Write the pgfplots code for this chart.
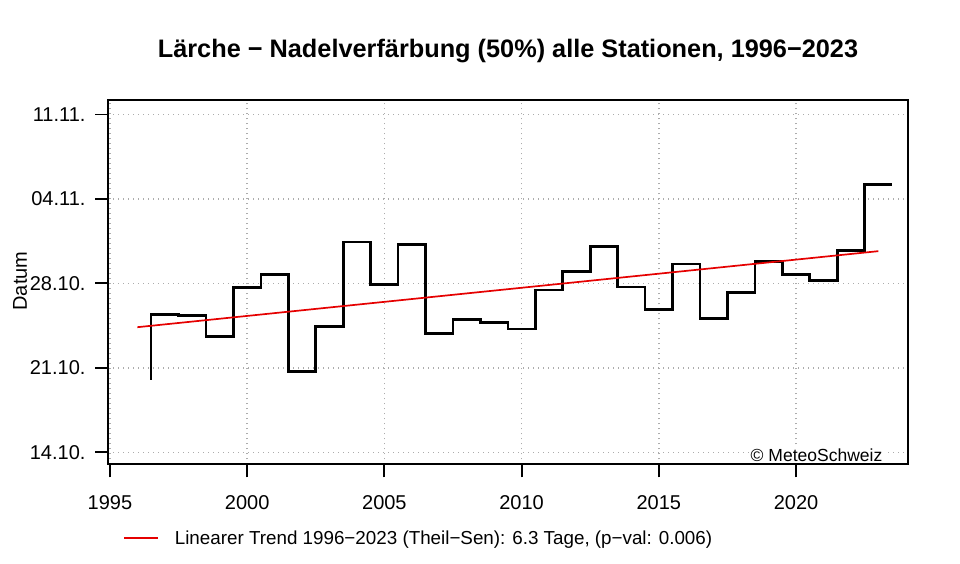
\documentclass[border=0pt]{standalone}
\usepackage{fontspec}
\setmainfont{Liberation Sans}
\usepackage{pgfplots}
\pgfplotsset{compat=1.18}
\pgfplotsset{trendleg/.style={legend image code/.code={\draw[#1] (0pt,0pt) -- (34pt,0pt);}}}
\begin{document}
\begin{tikzpicture}[x=1pt,y=1pt]
\path[use as bounding box] (0,0) rectangle (960,564);
\begin{axis}[
  at={(108pt,99.7pt)}, anchor=south west,
  scale only axis, width=800.3pt, height=364.6pt,
  xmin=1994.93, xmax=2024.09, ymin=-0.99, ymax=29.22,
  xtick={1995,2000,2005,2010,2015,2020},
  xticklabels={1995,2000,2005,2010,2015,2020},
  ytick={0,7,14,21,28},
  yticklabels={14.10.,21.10.,28.10.,04.11.,11.11.},
  xtick pos=bottom, ytick pos=left,
  tick align=outside, major tick length=13pt,
  tick style={black, line width=1.8pt},
  axis line style={line width=1.8pt},
  ticklabel style={font=\fontsize{20}{22}\selectfont},
  xticklabel style={yshift=-15pt},
  yticklabel style={xshift=-6pt},
  grid=major,
  major grid style={gray!65, line width=1.4pt, dash pattern=on 1.4pt off 3.6pt},
  legend style={at={(axis description cs:0.0187,-0.202)}, anchor=west, draw=none, fill=none,
    inner sep=0pt, font=\fontsize{18.8}{20}\selectfont, nodes={inner sep=0pt}, column sep=16pt},
  legend cell align=left,
  trendleg,
  clip=false,
]
\addplot[const plot mark right, black, line width=2.7pt, line join=miter, forget plot] coordinates {
(1996.5,6.0) (1997.5,11.45) (1998.5,11.31) (1999.5,9.57) (2000.5,13.63)
(2001.5,14.76) (2002.5,6.67) (2003.5,10.40) (2004.5,17.43) (2005.5,13.93)
(2006.5,17.22) (2007.5,9.82) (2008.5,11.01) (2009.5,10.73) (2010.5,10.21)
(2011.5,13.44) (2012.5,15.01) (2013.5,17.05) (2014.5,13.71) (2015.5,11.84)
(2016.5,15.61) (2017.5,11.09) (2018.5,13.25) (2019.5,15.81) (2020.5,14.74)
(2021.5,14.21) (2022.5,16.72) (2023.5,22.21)
};
\addplot[red!90!black, line width=1.7pt] coordinates {
(1996,10.37) (2023,16.67)
};
\addlegendentry{Linearer Trend 1996\textminus 2023 (Theil\textminus Sen): 6.3 Tage, (p\textminus val: 0.006)}
\node[anchor=east, fill=white, inner sep=1.5pt, font=\fontsize{17.5}{19}\selectfont]
  at (rel axis cs:0.9696,0.0255) {© MeteoSchweiz};
\end{axis}
\node[anchor=base, font=\bfseries\fontsize{25.3}{30}\selectfont] at (508,506)
  {Lärche \textminus\ Nadelverfärbung (50\%) alle Stationen, 1996\textminus 2023};
\node[rotate=90, font=\fontsize{20}{22}\selectfont] at (20,283) {Datum};
\end{tikzpicture}
\end{document}
